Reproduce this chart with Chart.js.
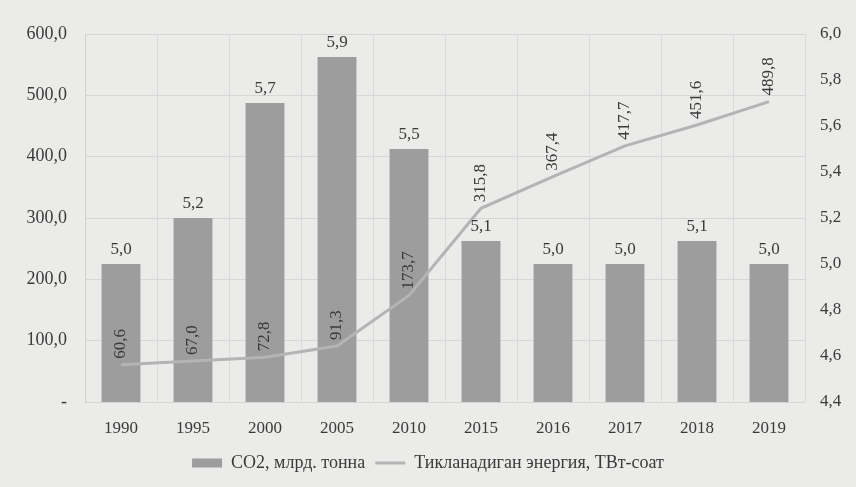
<!DOCTYPE html>
<html>
<head>
<meta charset="utf-8">
<script src="https://cdn.jsdelivr.net/npm/chart.js@4.4.0/dist/chart.umd.min.js"></script>
<style>
  html, body { margin: 0; padding: 0; background: #ebebe9; }
  #barchart { display: block; }
</style>
</head>
<body>
<canvas id="barchart" width="856" height="487"></canvas>
<script>
// Data
const years = ['1990', '1995', '2000', '2005', '2010', '2015', '2016', '2017', '2018', '2019'];
const co2 = [5.0, 5.2, 5.7, 5.9, 5.5, 5.1, 5.0, 5.0, 5.1, 5.0];
const energy = [60.6, 67.0, 72.8, 91.3, 173.7, 315.8, 367.4, 417.7, 451.6, 489.8];
const leftTicks = [0, 100, 200, 300, 400, 500, 600];
const rightTicks = [4.4, 4.6, 4.8, 5.0, 5.2, 5.4, 5.6, 5.8, 6.0];
const seriesNames = ['СО2, млрд. тонна', 'Тикланадиган энергия, ТВт-соат'];

const FONT = '"Liberation Serif", "Times New Roman", serif';
const TEXT = '#3a3a3a';

function comma(v) {
    return v.toFixed(1).replace('.', ',');
}

// paper background
const paper = {
    id: 'paper',
    beforeDraw(chart) {
        const c = chart.ctx;
        c.save();
        c.fillStyle = '#ebebe9';
        c.fillRect(0, 0, chart.width, chart.height);
        c.restore();
    }
};

// value labels: bar values above bars, line values rotated above points
const valueLabels = {
    id: 'valueLabels',
    afterDatasetsDraw(chart) {
        const c = chart.ctx;
        c.save();
        c.fillStyle = TEXT;
        c.font = '17px ' + FONT;

        chart.getDatasetMeta(0).data.forEach((bar, i) => {
            c.textAlign = 'center';
            c.textBaseline = 'bottom';
            c.fillText(comma(co2[i]), bar.x, bar.y - 6);
        });

        chart.getDatasetMeta(1).data.forEach((pt, i) => {
            c.save();
            c.translate(pt.x, pt.y - 6);
            c.rotate(-Math.PI / 2);
            c.textAlign = 'left';
            c.textBaseline = 'middle';
            c.fillText(comma(energy[i]), 0, 0);
            c.restore();
        });
        c.restore();
    }
};

const ctx = document.getElementById('barchart').getContext('2d');

const chart = new Chart(ctx, {
    type: 'bar',
    data: {
        labels: years,
        datasets: [{
            type: 'bar',
            label: seriesNames[0],
            data: co2,
            yAxisID: 'yRight',
            backgroundColor: '#9d9d9d',
            borderWidth: 0,
            barPercentage: 0.54,
            categoryPercentage: 1,
            pointStyle: 'rect',
            order: 2
        }, {
            type: 'line',
            label: seriesNames[1],
            data: energy,
            yAxisID: 'yLeft',
            borderColor: '#b4b4b4',
            backgroundColor: '#b4b4b4',
            borderWidth: 3,
            pointRadius: 0,
            tension: 0,
            pointStyle: 'line',
            order: 1
        }]
    },
    options: {
        responsive: false,
        animation: false,
        layout: {
            padding: { top: 34, right: 0, bottom: 5, left: 0 }
        },
        scales: {
            x: {
                grid: { color: '#dadada', drawTicks: false, offset: true },
                border: { display: false },
                afterFit(scale) { scale.height = 42; },
                ticks: {
                    color: TEXT,
                    font: { family: FONT, size: 17 },
                    padding: 16,
                    maxRotation: 0
                }
            },
            yLeft: {
                position: 'left',
                min: leftTicks[0],
                max: leftTicks[leftTicks.length - 1],
                afterBuildTicks(scale) {
                    scale.ticks = leftTicks.map(v => ({ value: v }));
                },
                afterFit(scale) { scale.width = 85; },
                grid: { color: '#d6d6d6', drawTicks: false },
                border: { color: '#cfcfcf' },
                ticks: {
                    color: TEXT,
                    font: { family: FONT, size: 18 },
                    padding: 18,
                    callback: v => v === 0 ? '-' : comma(v)
                }
            },
            yRight: {
                position: 'right',
                min: rightTicks[0],
                max: rightTicks[rightTicks.length - 1],
                afterBuildTicks(scale) {
                    scale.ticks = rightTicks.map(v => ({ value: v }));
                },
                afterFit(scale) { scale.width = 51; },
                grid: { display: false, drawTicks: false },
                border: { display: false },
                ticks: {
                    color: TEXT,
                    font: { family: FONT, size: 17 },
                    padding: 15,
                    callback: v => comma(v)
                }
            }
        },
        plugins: {
            legend: {
                position: 'bottom',
                labels: {
                    usePointStyle: true,
                    pointStyleWidth: 30,
                    boxHeight: 9,
                    color: TEXT,
                    font: { family: FONT, size: 18 },
                    padding: 10,
                    sort: (a, b) => a.datasetIndex - b.datasetIndex
                }
            },
            tooltip: { enabled: false }
        }
    },
    plugins: [paper, valueLabels]
});
</script>
</body>
</html>
